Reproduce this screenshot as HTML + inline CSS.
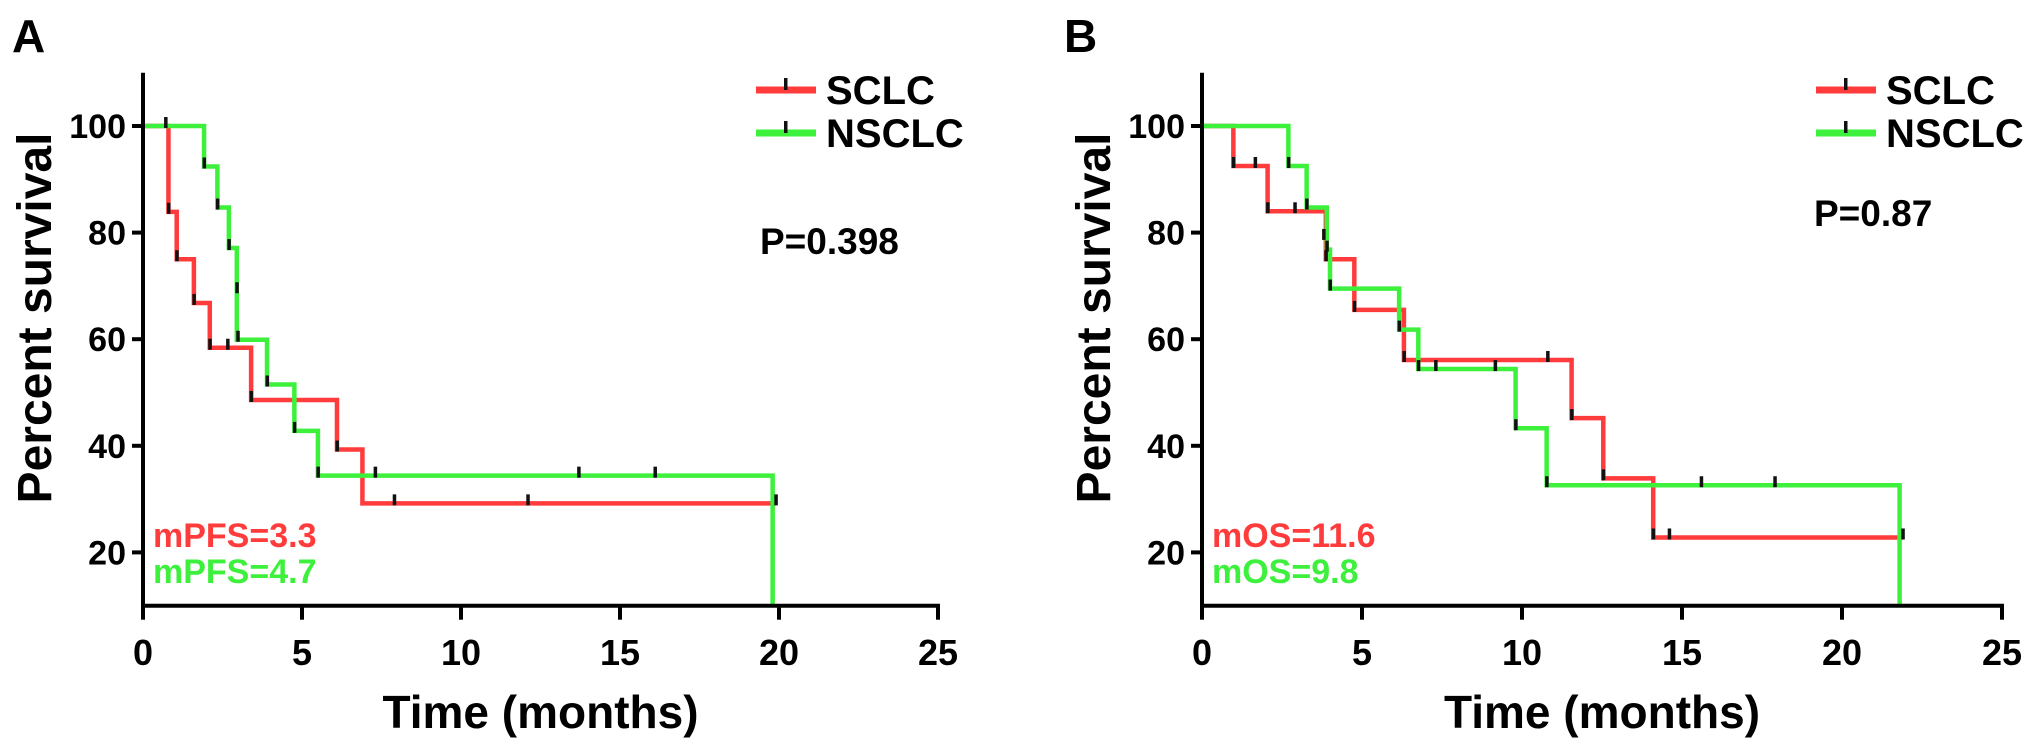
<!DOCTYPE html>
<html><head><meta charset="utf-8"><style>
body{margin:0;background:#fff;}
svg{display:block;font-family:"Liberation Sans",Arial,sans-serif;font-weight:bold;}
</style></head><body>
<svg id="chart" width="2031" height="750" viewBox="0 0 2031 750" xmlns="http://www.w3.org/2000/svg"></svg>
<script>
// Panel A (PFS) data: [time, survival%] after each step
const aRedSteps = [[0,100],[0.8,83.9],[1.06,75],[1.6,66.8],[2.1,58.4],[3.4,48.6],[6.1,39.3],[6.9,29.2],[19.9,29.2]];
const aGreenSteps = [[0,100],[1.92,92.4],[2.34,84.7],[2.7,77.1],[2.95,59.9],[3.9,51.5],[4.76,42.8],[5.5,34.4],[19.8,34.4],[19.8,10]];
const aRedCensor = [[0.71,100],[0.8,83.9],[1.06,75],[1.6,66.8],[2.1,58.4],[2.66,58.4],[3.4,48.6],[6.1,39.3],[7.9,29.2],[12.1,29.2],[19.9,29.2]];
const aGreenCensor = [[1.92,92.4],[2.34,84.7],[2.7,77.1],[2.95,69],[2.98,59.9],[3.9,51.5],[4.76,42.8],[5.5,34.4],[7.3,34.4],[13.7,34.4],[16.1,34.4]];
// Panel B (OS) data
const bRedSteps = [[0,100],[0.98,92.5],[2.05,84],[3.87,75],[4.76,65.5],[6.31,56.1],[11.55,45.2],[12.54,33.9],[14.1,22.8],[21.9,22.8]];
const bGreenSteps = [[0,100],[2.7,92.5],[3.27,84.7],[3.9,76.8],[4.0,69.5],[6.16,61.8],[6.76,54.4],[9.8,43.3],[10.77,32.6],[21.8,32.6],[21.8,10]];
const bRedCensor = [[0.98,92.5],[1.66,92.5],[2.05,84],[2.9,84],[3.8,79],[3.87,75],[4.76,65.5],[6.31,56.1],[10.8,56.1],[11.55,45.2],[12.54,33.9],[14.1,22.8],[14.6,22.8],[21.9,22.8]];
const bGreenCensor = [[2.7,92.5],[3.27,84.7],[3.9,76.8],[4.0,69.5],[6.16,61.8],[6.76,54.4],[7.3,54.4],[9.16,54.4],[9.8,43.3],[10.77,32.6],[15.6,32.6],[17.9,32.6]];
const xTicks = [0,5,10,15,20,25];
const yTicks = [20,40,60,80,100];
const legendLabels = ["SCLC","NSCLC"];

const NS="http://www.w3.org/2000/svg";
const svg=document.getElementById('chart');
function mk(tag,attrs,parent){const e=document.createElementNS(NS,tag);for(const k in attrs)e.setAttribute(k,attrs[k]);(parent||svg).appendChild(e);return e;}
const RED="#ff3b3b", GREEN="#3cf03c";

function panel(p){
  const g=mk('g',{});
  
  
  const sx=t=>p.x0+t*p.pxm;
  const sy=v=>126+(100-v)*5.33;
  const yBottom=sy(10), yTop=sy(110);
  const L=mk('text',{x:p.lx,y:52,'font-size':46},g);L.textContent=p.letter;
  
  
  function curve(steps,color,nm){
    let d='M'+sx(steps[0][0])+','+sy(steps[0][1]);
    for(let i=1;i<steps.length;i++){d+=' H'+sx(steps[i][0])+' V'+sy(steps[i][1]);}
    const pth=mk('path',{d:d,fill:'none',stroke:color,'stroke-width':4.5},g);
    
    
  }
  curve(p.red,RED,'sclc-curve');
  curve(p.green,GREEN,'nsclc-curve');
  function cens(arr,nm){arr.forEach(c=>{
    const r=mk('rect',{x:sx(c[0])-1.5,y:sy(c[1])-9,width:3.5,height:11,fill:'#111'},g);
    
    
  });}
  cens(p.redC,'sclc-censor-mark');
  cens(p.greenC,'nsclc-censor-mark');
  const ya=mk('line',{x1:p.x0,y1:yTop,x2:p.x0,y2:yBottom+2,stroke:'#000','stroke-width':4},g);
  
  
  const xa=mk('line',{x1:p.x0-2,y1:yBottom,x2:sx(25)+2,y2:yBottom,stroke:'#000','stroke-width':4},g);
  
  
  yTicks.forEach(v=>{
    mk('line',{x1:p.x0-11,y1:sy(v),x2:p.x0,y2:sy(v),stroke:'#000','stroke-width':4},g);
    const t=mk('text',{x:p.x0-17,y:sy(v)+12,'font-size':34,'text-anchor':'end'},g);t.textContent=v;
    
    
  });
  xTicks.forEach(v=>{
    mk('line',{x1:sx(v),y1:yBottom,x2:sx(v),y2:yBottom+14,stroke:'#000','stroke-width':4},g);
    const t=mk('text',{x:sx(v),y:665,'font-size':36,'text-anchor':'middle'},g);t.textContent=v;
    
    
  });
  const xt=mk('text',{x:sx(12.5),y:728,'font-size':46,'text-anchor':'middle'},g);xt.textContent='Time (months)';
  
  
  const yt=mk('text',{x:0,y:0,'font-size':48,'text-anchor':'middle',transform:'translate('+(p.x0-92)+',318) rotate(-90)'},g);yt.textContent='Percent survival';
  
  
  [[RED,0],[GREEN,1]].forEach(([c,i])=>{
    const ly=90+i*43;
    mk('line',{x1:p.legx,y1:ly,x2:p.legx+60,y2:ly,stroke:c,'stroke-width':7},g);
    mk('rect',{x:p.legx+28,y:ly-12,width:3.5,height:12,fill:'#111'},g);
    const t=mk('text',{x:p.legx+70,y:ly+14,'font-size':40},g);t.textContent=legendLabels[i];
    
    
  });
  const pv=mk('text',{x:p.px,y:p.py,'font-size':37},g);pv.textContent=p.ptext;
  
  
  const m1=mk('text',{x:p.x0+10,y:547,'font-size':34,fill:RED},g);m1.textContent=p.m1;
  
  
  const m2=mk('text',{x:p.x0+10,y:583,'font-size':34,fill:GREEN},g);m2.textContent=p.m2;
  
  
}
panel({name:'panel-a-pfs',letter:'A',lx:12,x0:143,pxm:31.8,red:aRedSteps,green:aGreenSteps,redC:aRedCensor,greenC:aGreenCensor,legx:756,px:760,py:254,ptext:'P=0.398',m1:'mPFS=3.3',m2:'mPFS=4.7'});
panel({name:'panel-b-os',letter:'B',lx:1064,x0:1202,pxm:32,red:bRedSteps,green:bGreenSteps,redC:bRedCensor,greenC:bGreenCensor,legx:1816,px:1814,py:226,ptext:'P=0.87',m1:'mOS=11.6',m2:'mOS=9.8'});
</script>
</body></html>
